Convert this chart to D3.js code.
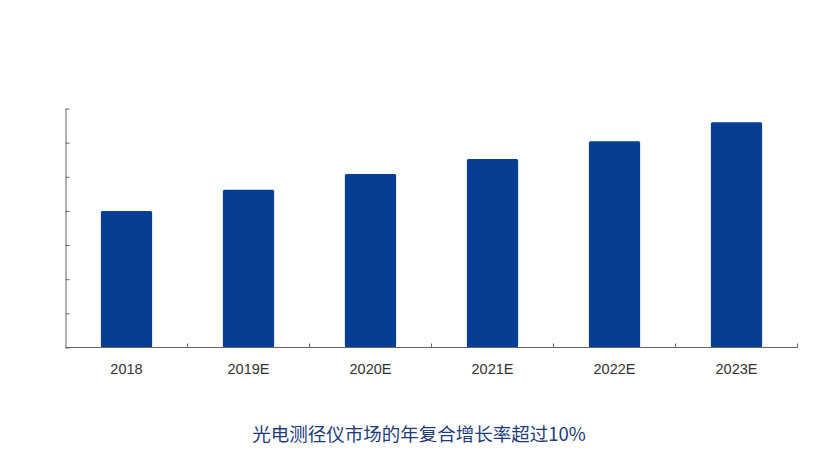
<!DOCTYPE html>
<html>
<head>
<meta charset="utf-8">
<script src="https://cdn.jsdelivr.net/npm/d3@7"></script>
<style>
  body { margin: 0; background: #fff; }
</style>
</head>
<body>
<svg id="chart" width="840" height="473"></svg>
<script>
// data
const years = ["2018", "2019E", "2020E", "2021E", "2022E", "2023E"]
const values = [20.0, 23.1, 25.4, 27.6, 30.2, 33.0]
const yTicks = [0, 5, 10, 15, 20, 25, 30, 35]
const caption = "光电测径仪市场的年复合增长率超过10%"

const svg = d3.select("#chart")

let x = d3.scaleBand()
    .domain(years)
    .range([65.5, 797.5])
    .paddingInner(0.58)
    .paddingOuter(0.29)

let y = d3.scaleLinear()
    .domain([0, 35])
    .range([347.5, 108.5])

// y axis, ticks pointing inward, no labels
svg.append("g")
    .attr("transform", `translate(65.5, 0)`)
    .call(d3.axisRight(y).tickValues(yTicks).tickSize(4).tickSizeOuter(0).tickFormat(""))
    .call(g => g.select(".domain").attr("stroke", "#666"))
    .call(g => g.selectAll(".tick line").attr("stroke", "#666"))

// bars
svg.append("g")
    .selectAll("rect")
    .data(values)
    .join("rect")
    .attr("x", (d, i) => x(years[i]))
    .attr("y", d => y(d))
    .attr("width", x.bandwidth())
    .attr("height", d => y(0) - y(d))
    .attr("rx", 1.5)
    .attr("fill", "#053e93")

// x axis with ticks between categories
let step = x.step()
let bounds = d3.range(years.length + 1).map(i => 65.5 + i * step)
let xAxis = svg.append("g")
xAxis.append("line")
    .attr("x1", 65.5).attr("x2", 797.5)
    .attr("y1", 347.5).attr("y2", 347.5)
    .attr("stroke", "#666")
xAxis.selectAll(".sep")
    .data(bounds.slice(1))
    .join("line")
    .attr("class", "sep")
    .attr("x1", d => d).attr("x2", d => d)
    .attr("y1", 347.5).attr("y2", 343.5)
    .attr("stroke", "#666")
xAxis.selectAll("text")
    .data(years)
    .join("text")
    .attr("x", d => x(d) + x.bandwidth() / 2)
    .attr("y", 374)
    .attr("text-anchor", "middle")
    .attr("fill", "#333")
    .style("font-family", "'Liberation Sans', Arial, sans-serif")
    .style("font-size", "14.5px")
    .text(d => d)

// caption
svg.append("text")
    .attr("x", 419)
    .attr("y", 441)
    .attr("text-anchor", "middle")
    .attr("fill", "#1d3a7a")
    .style("font-family", "'Noto Sans CJK SC', sans-serif")
    .style("font-size", "18.5px")
    .text(caption)
</script>
</body>
</html>
